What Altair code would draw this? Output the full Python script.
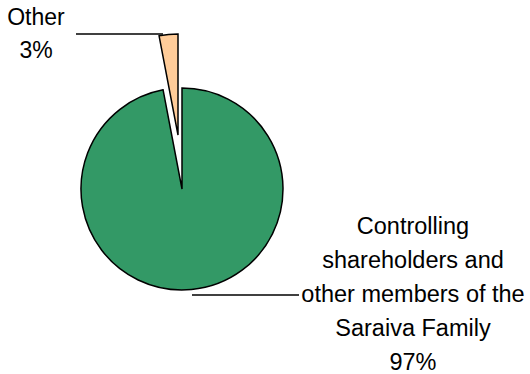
import altair as alt
import pandas as pd

categories = ["Controlling shareholders and other members of the Saraiva Family", "Other"]
values = [97, 3]
display_labels = [
    "Controlling\nshareholders and\nother members of the\nSaraiva Family\n97%",
    "Other \n3%",
]
colors = ["#339966", "#FFCC99"]

df = pd.DataFrame({
    "category": categories,
    "value": values,
    "order": [0, 1],
})

W, H = 530, 374
base = alt.Chart(df)

enc = dict(
    theta=alt.Theta("value:Q", stack=True),
    order=alt.Order("order:Q"),
    color=alt.Color("category:N", scale=alt.Scale(domain=categories, range=colors), legend=None),
)

green = base.mark_arc(x=182, y=189, radius=101, stroke="black", strokeWidth=1.5).encode(
    opacity=alt.condition(alt.datum.order == 0, alt.value(1), alt.value(0)),
    **enc,
)
orange = base.mark_arc(x=178, y=135, radius=101, stroke="black", strokeWidth=1.5).encode(
    opacity=alt.condition(alt.datum.order == 1, alt.value(1), alt.value(0)),
    **enc,
)

line_other = alt.Chart(df).mark_rule(color="black", strokeWidth=1.5).encode(
    x=alt.value(76), x2=alt.value(163), y=alt.value(34)
).transform_filter(alt.datum.order == 1)
line_main = alt.Chart(df).mark_rule(color="black", strokeWidth=1.5).encode(
    x=alt.value(192), x2=alt.value(299), y=alt.value(295)
).transform_filter(alt.datum.order == 0)

font = "Liberation Sans"
text_main = alt.Chart(df).mark_text(
    font=font, fontSize=23.5, lineHeight=34, align="center", baseline="alphabetic", lineBreak="\n", color="black"
).encode(
    x=alt.value(413), y=alt.value(234), text=alt.value(display_labels[0])
).transform_filter(alt.datum.order == 0)
text_other = alt.Chart(df).mark_text(
    font=font, fontSize=23, lineHeight=33, align="center", baseline="alphabetic", lineBreak="\n", color="black"
).encode(
    x=alt.value(36), y=alt.value(25), text=alt.value(display_labels[1])
).transform_filter(alt.datum.order == 1)

chart = alt.layer(green, orange, line_other, line_main, text_main, text_other).properties(
    width=W, height=H, padding=0, autosize=alt.AutoSizeParams(type="none")
).configure_view(stroke=None)

chart.save("out.html", embed_options={"renderer": "svg", "actions": False})
